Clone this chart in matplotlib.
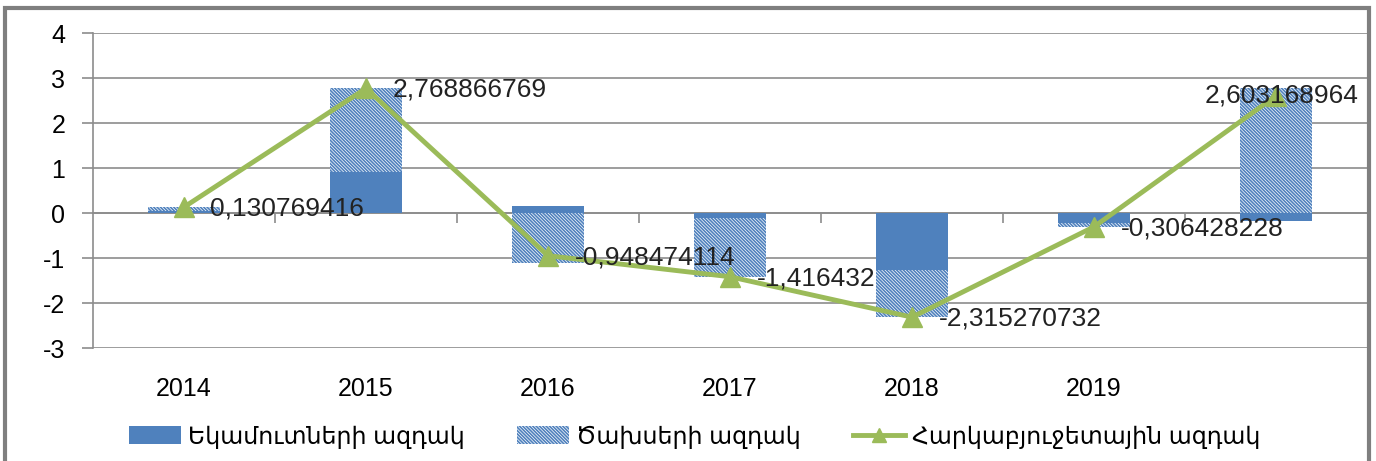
import numpy as np
import matplotlib.pyplot as plt
from matplotlib.patches import Patch, Rectangle
from matplotlib.lines import Line2D

plt.rcParams['font.family'] = ['Liberation Sans', 'DejaVu Sans']
plt.rcParams['hatch.linewidth'] = 1.2
plt.rcParams['axes.unicode_minus'] = False

years = ['2014', '2015', '2016', '2017', '2018', '2019', '']
ekamut = [0.04, 0.92, 0.15, -0.11, -1.27, -0.22, -0.17]
tsakhs = [0.09, 1.85, -1.10, -1.31, -1.045, -0.09, 2.77]
harkab = [0.130769416, 2.768866769, -0.948474114, -1.416432, -2.315270732, -0.306428228, 2.603168964]
names = ['Եկամուտների ազդակ', 'Ծախսերի ազդակ', 'Հարկաբյուջետային ազդակ']

blue = '#4F81BD'
green = '#9BBB59'
grid = '#8c8c8c'
hatch = '\\' * 10

W, H = 1376, 461
fig = plt.figure(figsize=(W / 100, H / 100), dpi=100)
ax = fig.add_axes([93 / W, 1 - 348 / H, (1367 - 93) / W, (348 - 33) / H])

x = np.arange(len(years))
ek = np.array(ekamut)
ts = np.array(tsakhs)
# excel stacks positives and negatives separately
ts_bottom = np.where(np.sign(ts) == np.sign(ek), ek, 0)

ax.bar(x, ek, width=0.4, color=blue, zorder=2)
ax.bar(x, ts, width=0.4, bottom=ts_bottom, facecolor='white', edgecolor=blue,
       hatch=hatch, linewidth=0, zorder=2)
ax.plot(x, harkab, color=green, lw=3.5, marker='^', ms=15, zorder=4)

for i, v in enumerate(harkab):
    txt = str(v).replace('.', ',')
    if i == len(harkab) - 1:
        ax.annotate(txt, (x[i], v), xytext=(4, 0), textcoords='offset points',
                    ha='center', va='center', fontsize=19, color='#222222', zorder=5)
    else:
        ax.annotate(txt, (x[i], v), xytext=(19, -1), textcoords='offset points',
                    ha='left', va='center', fontsize=19, color='#222222', zorder=5)

ax.set_xlim(-0.5, len(years) - 0.5)
ax.set_ylim(-3, 4)
ax.set_yticks(range(-3, 5))
ax.yaxis.grid(True, color=grid, lw=1.2)
ax.set_axisbelow(True)
for s in ['top', 'right', 'bottom']:
    ax.spines[s].set_visible(False)
ax.spines['left'].set_color(grid)
ax.spines['left'].set_linewidth(1.2)
ax.tick_params(axis='y', length=8, width=1.2, color=grid, labelsize=18, pad=12)
ax.set_xticks(x, years)
ax.tick_params(axis='x', length=0, labelsize=18, pad=21)

# zero axis with category tick marks
sec = ax.secondary_xaxis(3 / 7)
sec.set_alignment('bottom')
sec.set_xticks(x[:-1] + 0.5)
sec.tick_params(axis='x', length=7, width=1.2, color=grid, labelbottom=False, direction='out')
sec.spines['bottom'].set_color(grid)
sec.spines['bottom'].set_linewidth(1.2)

handles = [
    Patch(facecolor=blue, linewidth=0),
    Patch(facecolor='white', edgecolor=blue, hatch=hatch, linewidth=0),
    Line2D([], [], color=green, lw=3.5, marker='^', ms=10),
]
fig.legend(handles, names, loc='center', bbox_to_anchor=(0.505, 0.052), ncol=3,
           frameon=False, fontsize=17, handlelength=2.2, handleheight=0.8,
           handletextpad=0.3, columnspacing=2.2)

fig.patches.append(Rectangle((5 / W, -0.05), (1369 - 5) / W, 1.05 - 8 / H,
                             transform=fig.transFigure, fill=False,
                             edgecolor='#7f7f7f', lw=3))

fig.savefig('out.png', dpi=100)
